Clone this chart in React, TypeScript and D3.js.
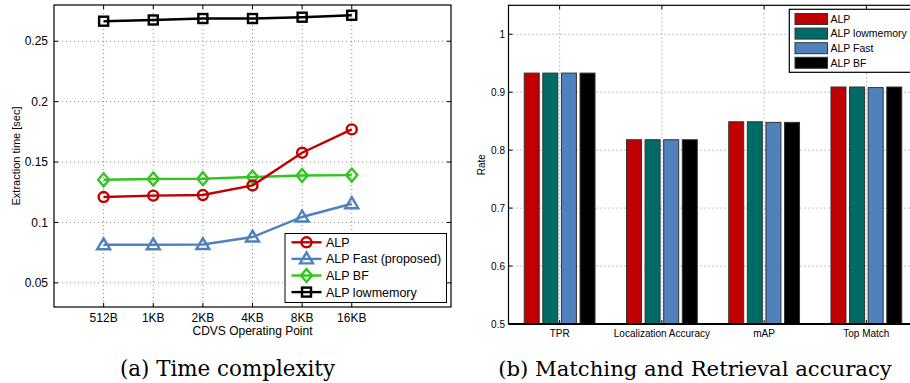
import React from 'react';
import * as d3 from 'd3';

// (a) time complexity
const operatingPoints = ['512B', '1KB', '2KB', '4KB', '8KB', '16KB'];
const timeAlp = [0.121, 0.1222, 0.1227, 0.1306, 0.1577, 0.177];
const timeFast = [0.0815, 0.0815, 0.0817, 0.0879, 0.1045, 0.1155];
const timeBf = [0.1353, 0.1359, 0.1362, 0.1376, 0.1389, 0.1392];
const timeLowmem = [0.2666, 0.2676, 0.2688, 0.2688, 0.2699, 0.2715];
const timeTicks = [0.05, 0.1, 0.15, 0.2, 0.25];

// (b) accuracy
const metrics = ['TPR', 'Localization Accuracy', 'mAP', 'Top Match'];
const barSeries = ['ALP', 'ALP lowmemory', 'ALP Fast', 'ALP BF'];
const rateAlp = [0.933, 0.818, 0.849, 0.909];
const rateLowmem = [0.933, 0.818, 0.849, 0.909];
const rateFast = [0.933, 0.818, 0.848, 0.908];
const rateBf = [0.933, 0.818, 0.848, 0.909];
const rateTicks = [0.5, 0.6, 0.7, 0.8, 0.9, 1];

const RED = '#c00000';
const BLUE = '#4f81bd';
const GREEN = '#33c41f';
const TEAL = '#006a66';
const font = '"Liberation Sans", Arial, sans-serif';
const serif = '"DejaVu Serif", serif';

function Marker({ type, x, y, color }: { type: string; x: number; y: number; color: string }) {
  const sw = 2.4;
  if (type === 'circle') return <circle cx={x} cy={y} r={5} fill="none" stroke={color} strokeWidth={sw} />;
  if (type === 'triangle')
    return <path d={`M${x},${y - 6.5}L${x + 6.5},${y + 4.5}L${x - 6.5},${y + 4.5}Z`} fill="none" stroke={color} strokeWidth={sw} />;
  if (type === 'diamond')
    return <path d={`M${x},${y - 6.5}L${x + 5.5},${y}L${x},${y + 6.5}L${x - 5.5},${y}Z`} fill="none" stroke={color} strokeWidth={sw} />;
  return <rect x={x - 4.5} y={y - 4.5} width={9} height={9} fill="none" stroke={color} strokeWidth={sw} />;
}

function TimeChart() {
  const L = 54, R = 451, T = 5, B = 307;
  const x = d3.scaleLinear().domain([-1, 7]).range([L, R]);
  const y = d3.scaleLinear().domain([0.03, 0.28]).range([B, T]);
  const line = d3.line<number>().x((_, i) => x(i)).y((d) => y(d));
  const series = [
    { name: 'ALP', data: timeAlp, color: RED, marker: 'circle' },
    { name: 'ALP Fast (proposed)', data: timeFast, color: BLUE, marker: 'triangle' },
    { name: 'ALP BF', data: timeBf, color: GREEN, marker: 'diamond' },
    { name: 'ALP lowmemory', data: timeLowmem, color: 'black', marker: 'square' },
  ];
  const drawOrder = [series[3], series[2], series[0], series[1]];
  return (
    <g fontFamily={font}>
      {timeTicks.map((t) => (
        <g key={t}>
          <line x1={L} x2={R} y1={y(t)} y2={y(t)} stroke="#888" strokeDasharray="1,3" />
          <line x1={L} x2={L + 4} y1={y(t)} y2={y(t)} stroke="black" />
          <line x1={R} x2={R - 4} y1={y(t)} y2={y(t)} stroke="black" />
          <text x={48} y={y(t)} dy="0.35em" textAnchor="end" fontSize={12}>{t}</text>
        </g>
      ))}
      {operatingPoints.map((p, i) => (
        <g key={p}>
          <line x1={x(i)} x2={x(i)} y1={T} y2={B} stroke="#888" strokeDasharray="1,3" />
          <line x1={x(i)} x2={x(i)} y1={B} y2={B - 4} stroke="black" />
          <line x1={x(i)} x2={x(i)} y1={T} y2={T + 4} stroke="black" />
          <text x={x(i)} y={322} textAnchor="middle" fontSize={12}>{p}</text>
        </g>
      ))}
      {drawOrder.map((s) => (
        <g key={s.name}>
          <path d={line(s.data) || ''} fill="none" stroke={s.color} strokeWidth={2.4} />
          {s.data.map((d, i) => (
            <Marker key={i} type={s.marker} x={x(i)} y={y(d)} color={s.color} />
          ))}
        </g>
      ))}
      <rect x={L} y={T} width={R - L} height={B - T} fill="none" stroke="black" strokeWidth={1.2} />
      <text x={(L + R) / 2} y={335} textAnchor="middle" fontSize={12}>CDVS Operating Point</text>
      <text transform={`translate(19.5,${(T + B) / 2}) rotate(-90)`} textAnchor="middle" fontSize={11}>Extraction time [sec]</text>
      <g>
        <rect x={285} y={233.5} width={161.5} height={69} fill="white" stroke="black" />
        {series.map((s, i) => {
          const ly = 242.3 + i * 16.6;
          return (
            <g key={s.name}>
              <line x1={291.5} x2={321.5} y1={ly} y2={ly} stroke={s.color} strokeWidth={2.4} />
              <Marker type={s.marker} x={306.5} y={ly} color={s.color} />
              <text x={326} y={ly} dy="0.36em" fontSize={12.5}>{s.name}</text>
            </g>
          );
        })}
      </g>
      <text x={227.5} y={376} textAnchor="middle" fontSize={21.4} fontFamily={serif}>(a) Time complexity</text>
    </g>
  );
}

function RateChart() {
  const L = 508.5, T = 5.3, B = 324;
  const x = d3.scaleLinear().domain([0.5, 4.5]).range([L, L + 409]);
  const y = d3.scaleLinear().domain([0.5, 1.05]).range([B, T]);
  const R = x(4.5);
  const values = [rateAlp, rateLowmem, rateFast, rateBf];
  const colors = [RED, TEAL, BLUE, 'black'];
  const pitch = 18.6, bw = 15;
  return (
    <g fontFamily={font}>
      {rateTicks.map((t) => (
        <g key={t}>
          <line x1={L} x2={R} y1={y(t)} y2={y(t)} stroke="#888" strokeDasharray="1,3" />
          <line x1={L} x2={L + 4} y1={y(t)} y2={y(t)} stroke="black" />
          <text x={505} y={y(t)} dy="0.35em" textAnchor="end" fontSize={10}>{t}</text>
        </g>
      ))}
      {metrics.map((m, i) => (
        <g key={m}>
          <line x1={x(i + 1)} x2={x(i + 1)} y1={T} y2={B} stroke="#888" strokeDasharray="1,3" />
          <line x1={x(i + 1)} x2={x(i + 1)} y1={B} y2={B - 4} stroke="black" />
          <line x1={x(i + 1)} x2={x(i + 1)} y1={T} y2={T + 4} stroke="black" />
          <text x={x(i + 1)} y={337} textAnchor="middle" fontSize={10}>{m}</text>
        </g>
      ))}
      {metrics.map((m, i) =>
        values.map((v, j) => (
          <rect
            key={m + j}
            x={x(i + 1) + (j - 1.5) * pitch - bw / 2}
            y={y(v[i])}
            width={bw}
            height={B - y(v[i])}
            fill={colors[j]}
            stroke="#333"
            strokeWidth={1}
          />
        ))
      )}
      <rect x={L} y={T} width={R - L} height={B - T} fill="none" stroke="black" strokeWidth={1.2} />
      <line x1={L} x2={R} y1={B} y2={B} stroke="black" strokeWidth={2} />
      <text transform={`translate(484.5,${(T + B) / 2}) rotate(-90)`} textAnchor="middle" fontSize={10}>Rate</text>
      <g>
        <rect x={789.3} y={9.3} width={130} height={63} fill="white" stroke="black" strokeWidth={1.2} />
        {barSeries.map((s, i) => {
          const cy = 19 + i * 14.6;
          return (
            <g key={s}>
              <rect x={795} y={cy - 5.5} width={32.5} height={11} fill={colors[i]} stroke="#333" />
              <text x={830.5} y={cy} dy="0.36em" fontSize={10.5}>{s}</text>
            </g>
          );
        })}
      </g>
      <text x={695} y={376} textAnchor="middle" fontSize={21.2} fontFamily={serif}>(b) Matching and Retrieval accuracy</text>
    </g>
  );
}

export default function App() {
  return (
    <svg width={910} height={383} style={{ position: 'absolute', left: 0, top: 0, background: 'white' }}>
      <rect width={910} height={383} fill="white" />
      <TimeChart />
      <RateChart />
    </svg>
  );
}
